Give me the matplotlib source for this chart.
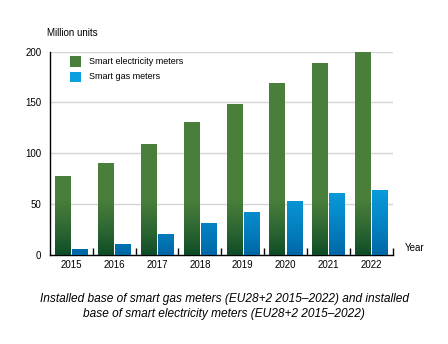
import numpy as np
import matplotlib
matplotlib.use('Agg')
import matplotlib.pyplot as plt
from matplotlib.patches import Rectangle
from matplotlib.colors import to_rgb

years = ['2015', '2016', '2017', '2018', '2019', '2020', '2021', '2022']
electricity = [77, 90, 109, 130, 148, 169, 188, 200]
gas = [5, 10, 20, 31, 42, 53, 60, 63]

plt.rcParams['font.family'] = ['Liberation Sans', 'DejaVu Sans']

green_top, green_bot = to_rgb('#4a7f3b'), to_rgb('#0b4a26')
blue_top, blue_bot = to_rgb('#0aa0e0'), to_rgb('#0064a4')


def gradient_bar(ax, x0, width, value, top, bot, fade):
    # darken the bar toward its base over the lowest `fade` units
    n = 200
    ys = np.linspace(value, 0, n)
    t = np.clip(ys / fade, 0, 1)[:, None] ** 0.8
    img = np.array(bot)[None, :] * (1 - t) + np.array(top)[None, :] * t
    img = np.repeat(img[:, None, :], 2, axis=1)
    ax.imshow(img, extent=(x0, x0 + width, 0, value), aspect='auto',
              interpolation='bilinear', zorder=3)


fig = plt.figure(figsize=(4.48, 3.44), dpi=100)
ax = fig.add_axes([0.111, 0.2587, 0.766, 0.5913])

w = 0.35
for i in range(len(years)):
    gradient_bar(ax, i + 0.123, w, electricity[i], green_top, green_bot, 55)
    gradient_bar(ax, i + 0.52, w, gas[i], blue_top, blue_bot, 70)

ax.set_xlim(0, len(years))
ax.set_ylim(0, 200)
ax.set_yticks([0, 50, 100, 150, 200])
ax.yaxis.grid(True, color='#d4d4d4', linewidth=1)
ax.set_axisbelow(True)
for s in ['top', 'right']:
    ax.spines[s].set_visible(False)
ax.spines['left'].set_linewidth(1)
ax.spines['bottom'].set_linewidth(1)
ax.tick_params(axis='y', length=0, labelsize=7, pad=6)

ax.set_xticks(np.arange(1, len(years) + 1))
ax.set_xticklabels([])
ax.tick_params(axis='x', direction='in', length=5, width=1)
for i, y in enumerate(years):
    ax.text(i + 0.5, -5, y, ha='center', va='top', fontsize=7)

ax.text(1.035, 0.01, 'Year', transform=ax.transAxes, ha='left', va='bottom',
        fontsize=7)
fig.text(0.105, 0.905, 'Million units', ha='left', va='center', fontsize=7)

# legend squares
ax.add_patch(Rectangle((0.06, 0.925), 0.032, 0.052, transform=ax.transAxes,
                       facecolor=green_top, clip_on=False, zorder=4))
ax.add_patch(Rectangle((0.06, 0.85), 0.032, 0.052, transform=ax.transAxes,
                       facecolor=blue_top, clip_on=False, zorder=4))
ax.text(0.114, 0.951, 'Smart electricity meters', transform=ax.transAxes,
        va='center', fontsize=6.5)
ax.text(0.114, 0.876, 'Smart gas meters', transform=ax.transAxes,
        va='center', fontsize=6.5)

fig.text(0.5, 0.11, 'Installed base of smart gas meters (EU28+2 2015\u20132022) and installed\n'
         'base of smart electricity meters (EU28+2 2015\u20132022)',
         ha='center', va='center', fontsize=8.6, style='italic', linespacing=1.3)

fig.savefig('out.png', dpi=100)
